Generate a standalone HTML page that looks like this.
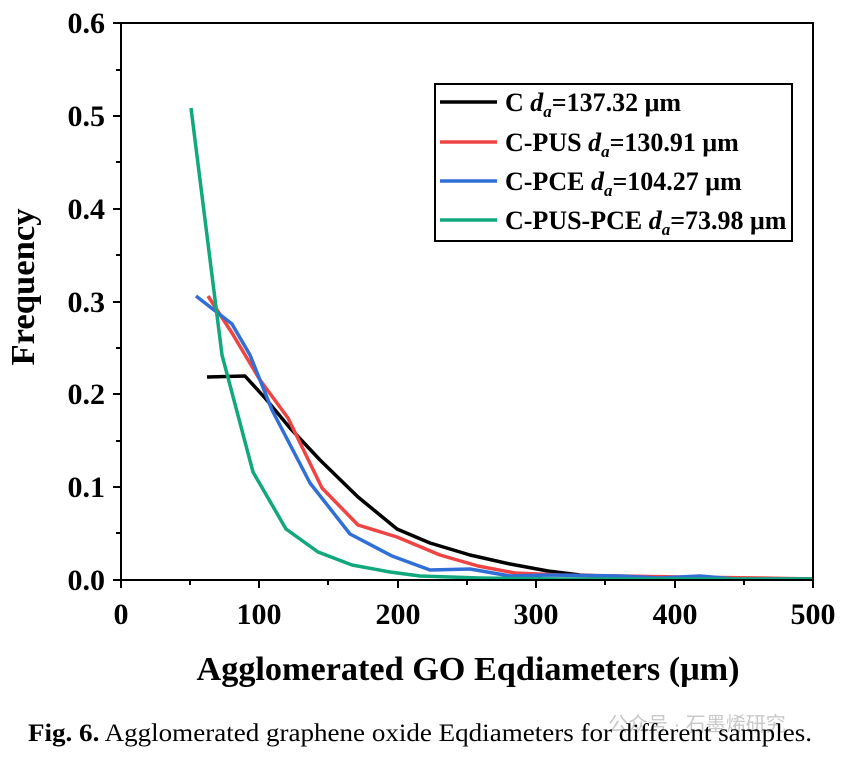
<!DOCTYPE html>
<html><head><style>body{margin:0;background:#fff}svg{display:block}</style></head><body>
<svg width="854" height="759" xmlns="http://www.w3.org/2000/svg" font-family="Liberation Serif, serif">
<g fill="none" stroke-width="3.5" stroke-linejoin="round">
<polyline stroke="#000" points="207,377 245,376 265,398 290,428 320,460 358,497 397,529 430,543 470,555 510,564 548,571 580,575 620,577 680,578 760,579 813,579"/>
<polyline stroke="#ef4444" points="208,296 232,333 260,380 288,418 322,488 358,525 397,537 440,555 478,566 515,573 560,575 620,576 680,577 760,578 813,579"/>
<polyline stroke="#2f6fd6" points="196,296 232,324 250,355 272,410 310,483 350,534 392,556 430,570 470,569 510,576 550,575 620,576 660,578 700,576 735,579 813,579"/>
<polyline stroke="#10a87c" points="191,108 222,355 253,472 286,529 318,552 352,565 390,572 420,576 480,578 560,579 813,579"/>
</g>
<rect x="121" y="23" width="692" height="557" fill="none" stroke="#000" stroke-width="2"/>
<g stroke="#000" stroke-width="2">
<line x1="121" y1="580" x2="121" y2="588"/><line x1="259" y1="580" x2="259" y2="588"/><line x1="398" y1="580" x2="398" y2="588"/><line x1="536" y1="580" x2="536" y2="588"/><line x1="675" y1="580" x2="675" y2="588"/><line x1="813" y1="580" x2="813" y2="588"/>
<line x1="190" y1="580" x2="190" y2="585"/><line x1="328" y1="580" x2="328" y2="585"/><line x1="467" y1="580" x2="467" y2="585"/><line x1="605" y1="580" x2="605" y2="585"/><line x1="744" y1="580" x2="744" y2="585"/>
<line x1="113" y1="580" x2="121" y2="580"/><line x1="113" y1="487" x2="121" y2="487"/><line x1="113" y1="394" x2="121" y2="394"/><line x1="113" y1="302" x2="121" y2="302"/><line x1="113" y1="209" x2="121" y2="209"/><line x1="113" y1="116" x2="121" y2="116"/><line x1="113" y1="23" x2="121" y2="23"/>
<line x1="116" y1="533" x2="121" y2="533"/><line x1="116" y1="441" x2="121" y2="441"/><line x1="116" y1="348" x2="121" y2="348"/><line x1="116" y1="255" x2="121" y2="255"/><line x1="116" y1="162" x2="121" y2="162"/><line x1="116" y1="70" x2="121" y2="70"/>
</g>
<g font-size="30" font-weight="bold" text-anchor="middle">
<text x="121" y="624">0</text><text x="259" y="624">100</text><text x="398" y="624">200</text><text x="536" y="624">300</text><text x="675" y="624">400</text><text x="813" y="624">500</text>
</g>
<g font-size="30" font-weight="bold" text-anchor="end">
<text x="105" y="590">0.0</text><text x="105" y="497">0.1</text><text x="105" y="404">0.2</text><text x="105" y="312">0.3</text><text x="105" y="219">0.4</text><text x="105" y="126">0.5</text><text x="105" y="33">0.6</text>
</g>
<text x="468" y="680" font-size="34" font-weight="bold" text-anchor="middle" textLength="543" lengthAdjust="spacingAndGlyphs">Agglomerated GO Eqdiameters (μm)</text>
<text transform="translate(34,287) rotate(-90)" font-size="34" font-weight="bold" text-anchor="middle" textLength="157" lengthAdjust="spacingAndGlyphs">Frequency</text>
<rect x="435" y="84" width="357" height="157" fill="#fff" stroke="#000" stroke-width="2"/>
<g stroke-width="3.5"><line x1="440" y1="102" x2="497" y2="102" stroke="#000"/><line x1="440" y1="142" x2="497" y2="142" stroke="#ef4444"/><line x1="440" y1="181" x2="497" y2="181" stroke="#2f6fd6"/><line x1="440" y1="220" x2="497" y2="220" stroke="#10a87c"/></g>
<g font-size="26" font-weight="bold">
<text x="505" y="111">C <tspan font-style="italic">d</tspan><tspan font-style="italic" font-size="17" dy="6">a</tspan><tspan dy="-6">=137.32 μm</tspan></text>
<text x="505" y="151">C-PUS <tspan font-style="italic">d</tspan><tspan font-style="italic" font-size="17" dy="6">a</tspan><tspan dy="-6">=130.91 μm</tspan></text>
<text x="505" y="190">C-PCE <tspan font-style="italic">d</tspan><tspan font-style="italic" font-size="17" dy="6">a</tspan><tspan dy="-6">=104.27 μm</tspan></text>
<text x="505" y="229">C-PUS-PCE <tspan font-style="italic">d</tspan><tspan font-style="italic" font-size="17" dy="6">a</tspan><tspan dy="-6">=73.98 μm</tspan></text>
</g>
<text x="608" y="731" font-size="20" fill="#c8c8c8" font-family="Liberation Sans, Noto Sans CJK SC, sans-serif">公众号 · 石墨烯研究</text>
<text x="28" y="741" font-size="25" textLength="784" lengthAdjust="spacingAndGlyphs"><tspan font-weight="bold">Fig. 6.</tspan>  Agglomerated graphene oxide Eqdiameters for different samples.</text>
</svg>
</body></html>
